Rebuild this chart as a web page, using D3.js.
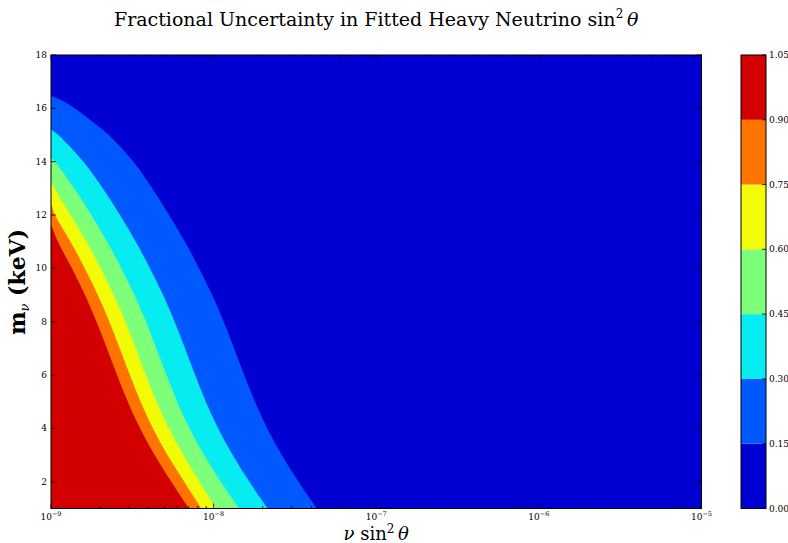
<!DOCTYPE html>
<html>
<head>
<meta charset="utf-8">
<script src="https://cdn.jsdelivr.net/npm/d3@7"></script>
<style>
  body { margin: 0; background: #fff; }
  text { font-family: "DejaVu Serif", "Liberation Serif", serif; fill: #000; }
</style>
</head>
<body>
<div id="chart"></div>
<script>
// contour levels and jet colours of the 7 filled bands
var levels = [0.00, 0.15, 0.30, 0.45, 0.60, 0.75, 0.90, 1.05];
var bandColors = ["#0000d2", "#0058ff", "#06ecf1", "#7dff7a", "#f1fc06", "#ff7300", "#d20000"];

// contour lines: mass (keV) and log10(sin^2 theta)
var mass015 = [1, 2, 3, 4, 5, 6, 7, 8, 9, 10, 11, 12, 13, 14, 15, 15.5, 16, 16.3, 16.46];
var logS015 = [-7.366, -7.478, -7.58, -7.67, -7.746, -7.812, -7.874, -7.938, -8.009, -8.089, -8.177, -8.274, -8.377, -8.494, -8.645, -8.745, -8.855, -8.935, -9.0];

var mass030 = [1, 2, 3, 4, 5, 6, 7, 8, 9, 10, 11, 12, 13, 14, 15, 15.21];
var logS030 = [-7.668, -7.78, -7.882, -7.972, -8.048, -8.114, -8.176, -8.24, -8.311, -8.391, -8.479, -8.576, -8.681, -8.801, -8.955, -9.0];

var mass045 = [1, 2, 3, 4, 5, 6, 7, 8, 9, 10, 11, 12, 13, 14, 14.18];
var logS045 = [-7.844, -7.956, -8.058, -8.148, -8.224, -8.29, -8.352, -8.416, -8.487, -8.567, -8.655, -8.752, -8.857, -8.975, -9.0];

var mass060 = [1, 2, 3, 4, 5, 6, 7, 8, 9, 10, 11, 12, 13, 13.28];
var logS060 = [-7.985, -8.088, -8.185, -8.275, -8.351, -8.417, -8.479, -8.543, -8.614, -8.694, -8.782, -8.879, -8.978, -9.0];

var mass075 = [1, 2, 3, 4, 5, 6, 7, 8, 9, 10, 11, 12, 12.43];
var logS075 = [-8.076, -8.181, -8.283, -8.373, -8.449, -8.515, -8.577, -8.641, -8.712, -8.792, -8.88, -8.975, -9.0];

var mass090 = [1, 2, 3, 4, 5, 6, 7, 8, 9, 10, 11, 11.66];
var logS090 = [-8.152, -8.26, -8.362, -8.452, -8.528, -8.594, -8.656, -8.72, -8.791, -8.871, -8.957, -9.0];

var yTicks = [2, 4, 6, 8, 10, 12, 14, 16, 18];
var xDecades = [-9, -8, -7, -6, -5];

var contours = [
  { m: mass015, s: logS015 },
  { m: mass030, s: logS030 },
  { m: mass045, s: logS045 },
  { m: mass060, s: logS060 },
  { m: mass075, s: logS075 },
  { m: mass090, s: logS090 }
];

var width = 788, height = 543;
var plotLeft = 51, plotTop = 55, plotW = 650.5, plotH = 453.5;

var x = d3.scaleLog().domain([1e-9, 1e-5]).range([plotLeft, plotLeft + plotW]);
var y = d3.scaleLinear().domain([1, 18]).range([plotTop + plotH, plotTop]);

var svg = d3.select("#chart").append("svg")
  .attr("width", width)
  .attr("height", height);

svg.append("defs").append("clipPath").attr("id", "plot-clip")
  .append("rect")
  .attr("x", plotLeft).attr("y", plotTop)
  .attr("width", plotW).attr("height", plotH);

var plot = svg.append("g").attr("clip-path", "url(#plot-clip)");

// lowest band fills everything
plot.append("rect")
  .attr("x", plotLeft).attr("y", plotTop)
  .attr("width", plotW).attr("height", plotH)
  .attr("fill", bandColors[0]);

var line = d3.line().curve(d3.curveCatmullRom.alpha(0.5));

// each higher band covers the region left of its contour line,
// closed along the left and bottom edges
contours.forEach(function (c, i) {
  var pts = c.m.map(function (mv, j) {
    return [x(Math.pow(10, c.s[j])), y(mv)];
  });
  var x0 = x(1e-9) - 2;
  var d = line(pts) + "L" + x0 + "," + pts[pts.length - 1][1] +
    "L" + x0 + "," + (y(1) + 2) + "L" + pts[0][0] + "," + (y(1) + 2) + "Z";
  plot.append("path")
    .attr("d", d)
    .attr("fill", bandColors[i + 1]);
});

// frame
svg.append("rect")
  .attr("x", plotLeft).attr("y", plotTop)
  .attr("width", plotW).attr("height", plotH)
  .attr("fill", "none")
  .attr("stroke", "#000")
  .attr("stroke-width", 1);

// ticks (inside, on all four sides)
var ticks = svg.append("g").attr("stroke", "#000").attr("stroke-width", 0.8);
var minor = [];
xDecades.slice(0, -1).forEach(function (e) {
  for (var k = 2; k <= 9; k++) minor.push(k * Math.pow(10, e));
});
xDecades.forEach(function (e) {
  var px = x(Math.pow(10, e));
  ticks.append("line").attr("x1", px).attr("x2", px).attr("y1", plotTop + plotH).attr("y2", plotTop + plotH - 5);
  ticks.append("line").attr("x1", px).attr("x2", px).attr("y1", plotTop).attr("y2", plotTop + 5);
});
minor.forEach(function (v) {
  var px = x(v);
  ticks.append("line").attr("x1", px).attr("x2", px).attr("y1", plotTop + plotH).attr("y2", plotTop + plotH - 2.5);
  ticks.append("line").attr("x1", px).attr("x2", px).attr("y1", plotTop).attr("y2", plotTop + 2.5);
});
yTicks.forEach(function (v) {
  var py = y(v);
  ticks.append("line").attr("x1", plotLeft).attr("x2", plotLeft + 5).attr("y1", py).attr("y2", py);
  ticks.append("line").attr("x1", plotLeft + plotW).attr("x2", plotLeft + plotW - 5).attr("y1", py).attr("y2", py);
});

// tick labels
svg.append("g").selectAll("text").data(yTicks).enter().append("text")
  .attr("x", plotLeft - 4)
  .attr("y", function (d) { return y(d) + 3; })
  .attr("text-anchor", "end")
  .attr("font-size", 9)
  .text(function (d) { return d; });

var xl = svg.append("g").selectAll("text").data(xDecades).enter().append("text")
  .attr("x", function (d) { return x(Math.pow(10, d)); })
  .attr("y", 520)
  .attr("text-anchor", "middle")
  .attr("font-size", 9);
xl.append("tspan").text("10");
xl.append("tspan").attr("dy", -4).attr("font-size", 6.5).text(function (d) { return "\u2212" + (-d); });

// titles
var title = svg.append("text")
  .attr("x", plotLeft + plotW / 2)
  .attr("y", 26)
  .attr("text-anchor", "middle")
  .attr("font-size", 19);
title.append("tspan").text("Fractional Uncertainty in Fitted Heavy Neutrino sin");
title.append("tspan").attr("dy", -8).attr("font-size", 12).text("2");
title.append("tspan").attr("dy", 8).attr("font-style", "italic").text("\u2009\u03b8");

var xlab = svg.append("text")
  .attr("x", plotLeft + plotW / 2)
  .attr("y", 540)
  .attr("text-anchor", "middle")
  .attr("font-size", 18);
xlab.append("tspan").attr("font-style", "italic").text("\u03bd");
xlab.append("tspan").text(" sin");
xlab.append("tspan").attr("dy", -7).attr("font-size", 12).text("2");
xlab.append("tspan").attr("dy", 7).attr("font-style", "italic").text("\u2009\u03b8");

var ylab = svg.append("text")
  .attr("transform", "translate(25," + (plotTop + plotH / 2) + ") rotate(-90)")
  .attr("text-anchor", "middle")
  .attr("font-size", 22)
  .attr("font-weight", "bold");
ylab.append("tspan").text("m");
ylab.append("tspan").attr("dy", 4).attr("font-size", 13).attr("font-style", "italic").attr("font-weight", "normal").text("\u03bd");
ylab.append("tspan").attr("dy", -4).text(" (keV)");

// colour bar
var cbX = 741, cbW = 25;
var cy = d3.scaleLinear().domain([0, 1.05]).range([plotTop + plotH, plotTop]);
var cb = svg.append("g");
cb.selectAll("rect").data(bandColors).enter().append("rect")
  .attr("x", cbX)
  .attr("y", function (d, i) { return cy(levels[i + 1]); })
  .attr("width", cbW)
  .attr("height", function (d, i) { return cy(levels[i]) - cy(levels[i + 1]); })
  .attr("fill", function (d) { return d; });
cb.append("rect")
  .attr("x", cbX).attr("y", plotTop)
  .attr("width", cbW).attr("height", plotH)
  .attr("fill", "none").attr("stroke", "#000").attr("stroke-width", 1);
cb.selectAll("line").data(levels).enter().append("line")
  .attr("x1", cbX + cbW).attr("x2", cbX + cbW - 4)
  .attr("y1", function (d) { return cy(d); })
  .attr("y2", function (d) { return cy(d); })
  .attr("stroke", "#000").attr("stroke-width", 0.8);
cb.selectAll("text").data(levels).enter().append("text")
  .attr("x", cbX + cbW + 3)
  .attr("y", function (d) { return cy(d) + 3; })
  .attr("font-size", 9)
  .text(function (d) { return d.toFixed(2); });
</script>
</body>
</html>
